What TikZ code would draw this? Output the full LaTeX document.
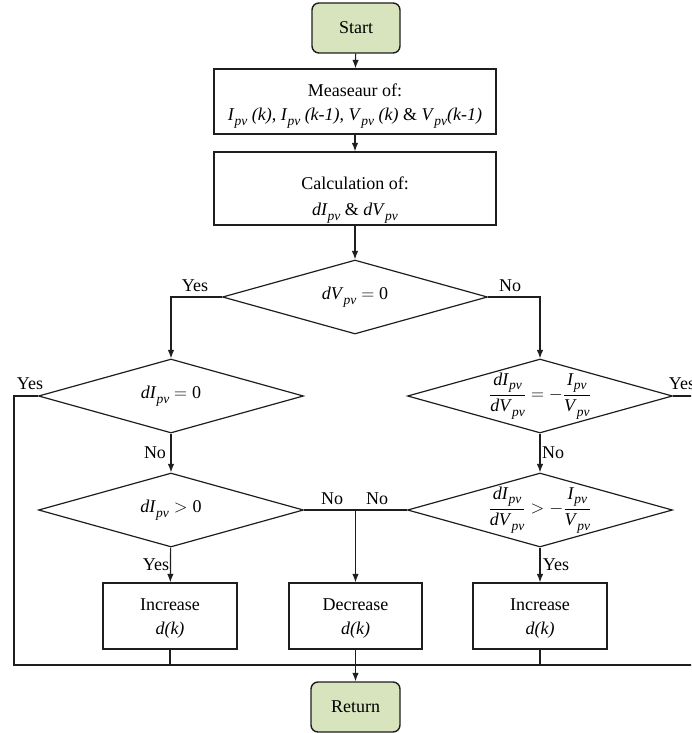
\RequirePackage{fix-cm}
\documentclass[tikz,border=0pt]{standalone}
\usepackage{amsmath}
\usepackage{fontspec}
\setmainfont{Liberation Serif}
\usetikzlibrary{shapes.geometric,arrows.meta}
\definecolor{termfill}{HTML}{D7E4BD}
\definecolor{linecol}{HTML}{1E1E1E}
% italic quantity with a "pv" subscript
\newcommand{\pvsub}[1]{\textit{#1}\raisebox{-4.5pt}{\fontsize{13.5}{14}\selectfont\textit{pv}}}

\begin{document}
\begin{tikzpicture}[
  x=1pt, y=-1pt,
  font=\fontsize{18}{24}\selectfont,
  line width=1.2pt, draw=linecol,
  >={Latex[length=8.5pt,width=6.5pt]},
  term/.style={draw=linecol, rounded corners=7pt, fill=termfill, line width=1.4pt,
               minimum width=88pt, minimum height=50pt, inner sep=0pt},
  proc/.style={draw=linecol, align=center, inner sep=0pt},
  decision/.style={draw=linecol, diamond, inner sep=0pt,
                   minimum width=265pt, minimum height=74pt},
  txt/.style={inner sep=0pt, align=center},
  lbl/.style={inner sep=0pt}
]
\path[use as bounding box, clip] (0,0) rectangle (691,733);

% terminals and process boxes
\node[term] (start) at (356,28) {\raisebox{-2pt}{Start}};
\node[proc, minimum width=282pt, minimum height=65pt] (meas) at (355,101.5) {};
\node[txt] (tm) at (355,106)
  {Measeaur of:\\ \pvsub{I} \textit{(k)}, \pvsub{I} \textit{(k-1)}, \pvsub{V} \textit{(k)} \& \pvsub{V}\textit{(k-1)}};
\node[proc, minimum width=282pt, minimum height=73pt] (calc) at (355,188.5) {};
\node[txt] (tc) at (355,200)
  {Calculation of:\\[2pt] \pvsub{dI} \& \pvsub{dV}};

% decisions
\node[decision] (d1) at (355,297) {};
\node[txt] (t1) at (d1) {\pvsub{dV}${}={}$0};
\node[decision] (d2) at (171,396) {};
\node[txt] (t2) at (d2) {\pvsub{dI}${}={}$0};
\node[decision] (d3) at (171,510) {};
\node[txt] (t3) at (d3) {\pvsub{dI}${}>{}$0};
\node[decision] (d4) at (540,396) {};
\node[txt] (t4) at (d4)
  {$\dfrac{\text{\pvsub{dI}}}{\text{\pvsub{dV}}} = -\dfrac{\text{\pvsub{I}}}{\text{\pvsub{V}}}$};
\node[decision] (d5) at (540,510) {};
\node[txt] (t5) at (d5)
  {$\dfrac{\text{\pvsub{dI}}}{\text{\pvsub{dV}}} > -\dfrac{\text{\pvsub{I}}}{\text{\pvsub{V}}}$};

% actions
\node[proc, minimum width=134pt, minimum height=66pt] (incl) at (170,616) {};
\node[txt] (ti1) at (170,619) {Increase\\ \textit{d(k)}};
\node[proc, minimum width=133pt, minimum height=66pt] (decr) at (355.5,616) {};
\node[txt] (td) at (355.5,619) {Decrease\\ \textit{d(k)}};
\node[proc, minimum width=134pt, minimum height=66pt] (incr) at (540,616) {};
\node[txt] (ti2) at (540,619) {Increase\\ \textit{d(k)}};
\node[term, minimum width=89pt] (ret) at (355.5,707) {Return};

% helper points
\coordinate (jn) at (355.5,510);
\coordinate (busL) at (14,665);
\coordinate (busM) at (355.5,665);
\coordinate (busR) at (700,665);

% connectors
\draw[->] (start) -- (meas);
\draw[->] (meas) -- (calc);
\draw[->] (calc) -- (d1);
\draw[->] (d1.west) -| (d2.north);
\draw[->] (d1.east) -| (d4.north);
\draw[->] (d2) -- (d3);
\draw[->] (d4) -- (d5);
\draw (d3.east) -- (jn);
\draw (d5.west) -- (jn);
\draw[->] (jn) -- (decr);
\draw[->] (d3) -- (incl);
\draw[->] (d5) -- (incr);
\draw (d2.west) -| (busL) -- (busR) |- (d4.east);
\draw (incl) -- (incl |- busM);
\draw (incr) -- (incr |- busM);
\draw[->] (decr) -- (ret);

% branch labels
\node[lbl] (y1) at (195,286) {Yes};
\node[lbl] (n1) at (510,286) {No};
\node[lbl] (y2) at (30,384) {Yes};
\node[lbl] (y4) at (682,384) {Yes};
\node[lbl] (n2) at (155,453) {No};
\node[lbl] (n4) at (553,453) {No};
\node[lbl] (n3) at (332,499) {No};
\node[lbl] (n5) at (377,499) {No};
\node[lbl] (y3) at (156,565) {Yes};
\node[lbl] (y5) at (556,565) {Yes};
\end{tikzpicture}
\end{document}
